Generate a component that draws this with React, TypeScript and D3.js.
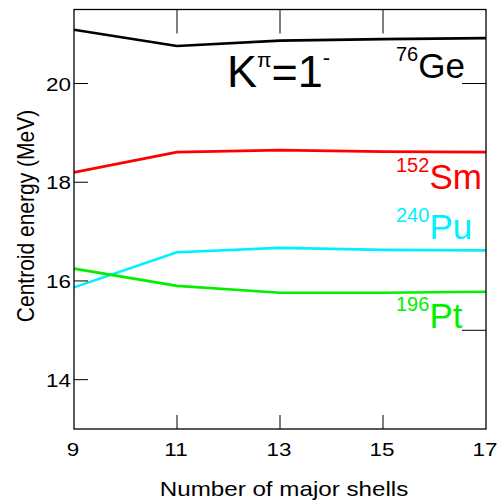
import { useEffect, useRef } from 'react';
import * as d3 from 'd3';

const SHELLS = [9, 11, 13, 15, 17];
const GE76 = [21.09, 20.76, 20.87, 20.9, 20.92];
const SM152 = [18.2, 18.61, 18.65, 18.62, 18.61];
const PU240 = [15.87, 16.58, 16.67, 16.63, 16.62];
const PT196 = [16.25, 15.9, 15.76, 15.76, 15.78];

const X_TICKS = [9, 11, 13, 15, 17];
const Y_TICKS = [14, 16, 18, 20];
const Y_RIGHT_TICKS = [15, 20];

const SERIES = [
  { name: 'Ge', mass: '76', values: GE76, color: '#000000', labelY: 20.12 },
  { name: 'Sm', mass: '152', values: SM152, color: '#ff0000', labelY: 17.87 },
  { name: 'Pu', mass: '240', values: PU240, color: '#00f0ff', labelY: 16.84 },
  { name: 'Pt', mass: '196', values: PT196, color: '#00f000', labelY: 15.04 }
];

// the original figure is stretched a little horizontally
const STRETCH = 1.18;

export default function App() {
  const ref = useRef<SVGSVGElement | null>(null);

  useEffect(() => {
    if (!ref.current) return;
    const svg = d3.select(ref.current);
    svg.selectAll('*').remove();

    const left = 74, right = 486, top = 9.5, bottom = 429;
    const font = '"Liberation Sans", Arial, Helvetica, sans-serif';

    const x = d3.scaleLinear().domain([9, 17]).range([left, right]);
    const y = d3.scaleLinear().domain([13, 21.5]).range([bottom, top]);

    const g = svg.append('g').style('font-family', font);

    // Lines
    const line = d3.line<number>()
      .x((_, i) => x(SHELLS[i]))
      .y(d => y(d));

    SERIES.forEach(s => {
      g.append('path')
        .datum(s.values)
        .attr('fill', 'none')
        .attr('stroke', s.color)
        .attr('stroke-width', 2.6)
        .attr('stroke-linejoin', 'round')
        .attr('d', line);
    });

    // Frame
    g.append('rect')
      .attr('x', left)
      .attr('y', top)
      .attr('width', right - left)
      .attr('height', bottom - top)
      .attr('fill', 'none')
      .attr('stroke', '#000')
      .attr('stroke-width', 1.3);

    // Inner ticks
    X_TICKS.slice(1, -1).forEach(t => {
      g.append('line')
        .attr('x1', x(t)).attr('x2', x(t))
        .attr('y1', bottom).attr('y2', bottom - 14)
        .attr('stroke', '#000').attr('stroke-width', 1);
      g.append('line')
        .attr('x1', x(t)).attr('x2', x(t))
        .attr('y1', top).attr('y2', top + 24)
        .attr('stroke', '#000').attr('stroke-width', 1);
    });
    Y_TICKS.forEach(t => {
      g.append('line')
        .attr('x1', left).attr('x2', left + 14)
        .attr('y1', y(t)).attr('y2', y(t))
        .attr('stroke', '#000').attr('stroke-width', 1);
    });
    Y_RIGHT_TICKS.forEach(t => {
      g.append('line')
        .attr('x1', right).attr('x2', right - 24)
        .attr('y1', y(t)).attr('y2', y(t))
        .attr('stroke', '#000').attr('stroke-width', 1);
    });

    // Tick labels
    g.selectAll('.xlab')
      .data(X_TICKS)
      .enter()
      .append('text')
      .attr('transform', d => `translate(${x(d) - 1},${bottom + 27}) scale(${STRETCH},1)`)
      .attr('text-anchor', 'middle')
      .style('font-size', '19px')
      .text(d => d);

    g.selectAll('.ylab')
      .data(Y_TICKS)
      .enter()
      .append('text')
      .attr('transform', d => `translate(${left - 3},${y(d) + 7}) scale(${STRETCH},1)`)
      .attr('text-anchor', 'end')
      .style('font-size', '19px')
      .text(d => d);

    // Axis titles
    g.append('text')
      .attr('transform', `translate(284,496) scale(${STRETCH},1)`)
      .attr('text-anchor', 'middle')
      .style('font-size', '20.5px')
      .text('Number of major shells');

    g.append('text')
      .attr('transform', `translate(34,216) scale(${STRETCH},1) rotate(-90)`)
      .attr('text-anchor', 'middle')
      .style('font-size', '21px')
      .text('Centroid energy (MeV)');

    // K^pi = 1^-
    const k = g.append('text')
      .attr('x', 227)
      .attr('y', 87)
      .style('font-size', '45px');
    k.append('tspan').text('K');
    k.append('tspan').attr('dy', -20).style('font-size', '21px').text('π');
    k.append('tspan').attr('dy', 20).text('=1');
    k.append('tspan').attr('dy', -22).style('font-size', '22px').text('-');

    // Nucleus labels
    SERIES.forEach(s => {
      const t = g.append('text')
        .attr('x', 396)
        .attr('y', y(s.labelY))
        .attr('fill', s.color)
        .style('font-size', '35px');
      t.append('tspan').attr('dy', -17).style('font-size', '20px').text(s.mass);
      t.append('tspan').attr('dy', 17).text(s.name);
    });
  }, []);

  return (
    <svg
      ref={ref}
      width={501}
      height={500}
      style={{ position: 'absolute', left: 0, top: 0, background: '#fff' }}
    />
  );
}
